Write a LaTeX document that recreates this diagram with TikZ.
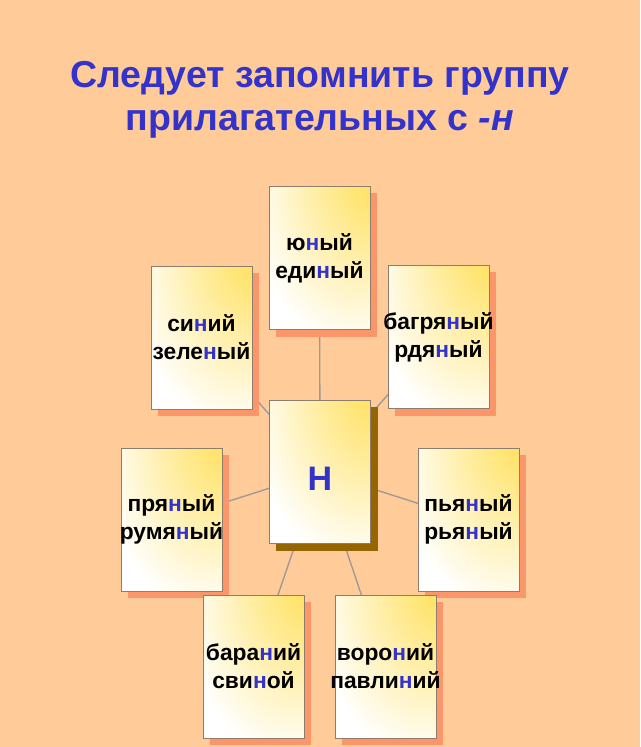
\documentclass[tikz,border=0pt]{standalone}
\usepackage{fontspec}
\setmainfont{Liberation Sans}
\definecolor{bgpeach}{RGB}{255,204,153}
\definecolor{titleblue}{RGB}{51,51,204}
\definecolor{boxyellow}{RGB}{255,220,70}
\definecolor{boxborder}{RGB}{140,125,110}
\definecolor{salmon}{RGB}{250,150,105}
\definecolor{darkshadow}{RGB}{150,100,0}
\definecolor{linkgray}{RGB}{155,155,155}
\pgfdeclareradialshading{cornerglow}{\pgfpoint{38bp}{42bp}}{color(0bp)=(boxyellow); color(6bp)=(boxyellow); color(52bp)=(white); color(100bp)=(white)}
\pgfdeclarelayer{bg}
\pgfsetlayers{bg,main}
\newcommand{\hn}{\textcolor{titleblue}{н}}
\newcommand{\cl}[1]{\makebox[0pt][c]{#1}}
\begin{document}
\begin{tikzpicture}[x=1pt,y=-1pt,
  wordbox/.style={draw=boxborder, line width=0.9pt, shading=cornerglow,
    minimum width=101pt, minimum height=143pt, inner sep=0pt, align=center,
    font=\fontsize{22.8}{28}\selectfont\bfseries},
  link/.style={draw=linkgray, line width=1.4pt},
  titletext/.style={text=titleblue, align=center, inner sep=0pt,
    font=\fontsize{37.5}{43}\selectfont\bfseries}]
\useasboundingbox (0,0) rectangle (640,747);
\node[titletext] (title) at (320,100) {Следует запомнить группу\\прилагательных с \textit{-н}};
\node[wordbox] (top) at (319.5,258) {\cl{ю\hn ый}\\\cl{еди\hn ый}};
\node[wordbox] (lft) at (201.5,337.5) {\cl{си\hn ий}\\\cl{зеле\hn ый}};
\node[wordbox] (rgt) at (438.5,337) {\cl{багря\hn ый}\\\cl{рдя\hn ый}};
\node[wordbox, font=\fontsize{34}{40}\selectfont\bfseries, text=titleblue, text height=36pt, text depth=0pt] (ctr) at (320,472) {Н};
\node[wordbox] (pry) at (171.5,519.5) {\cl{пря\hn ый}\\\cl{румя\hn ый}};
\node[wordbox] (pya) at (468.5,519.5) {\cl{пья\hn ый}\\\cl{рья\hn ый}};
\node[wordbox] (bar) at (253.5,666.5) {\cl{бара\hn ий}\\\cl{сви\hn ой}};
\node[wordbox] (vor) at (385.5,666.5) {\cl{воро\hn ий}\\\cl{павли\hn ий}};
\begin{pgfonlayer}{bg}
  \fill[bgpeach] (0,0) rectangle (640,747);
  \foreach \b in {top,lft,rgt,pry,pya,bar,vor} {\draw[link] (ctr.center) -- (\b.center);}
  \foreach \b in {top,lft,rgt,pry,pya,bar,vor} {
    \fill[salmon] ([shift={(7,7)}]\b.south west) rectangle ([shift={(7,7)}]\b.north east);}
  \fill[darkshadow] ([shift={(7,7)}]ctr.south west) rectangle ([shift={(7,7)}]ctr.north east);
\end{pgfonlayer}
\end{tikzpicture}
\end{document}
